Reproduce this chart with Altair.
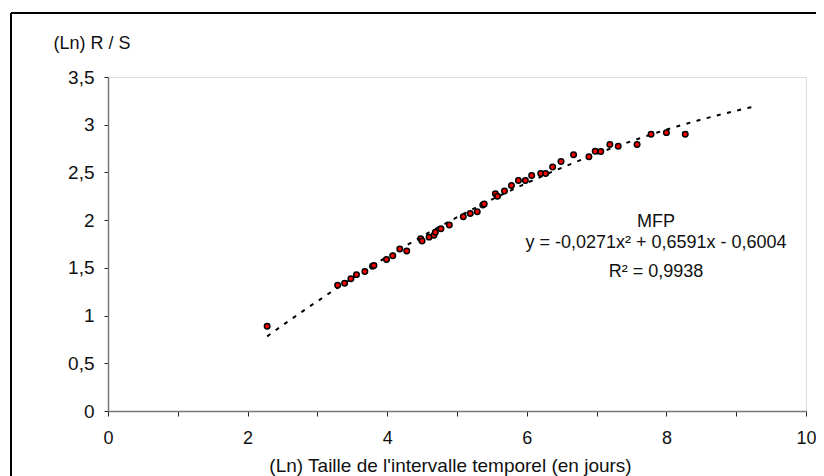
import altair as alt
import pandas as pd

# Data
x_vals = [2.28, 3.29, 3.39, 3.48, 3.56, 3.68, 3.79, 3.81, 3.99, 4.08, 4.18, 4.28,
          4.48, 4.50, 4.60, 4.67, 4.69, 4.77, 4.89, 5.09, 5.19, 5.29, 5.37, 5.39,
          5.55, 5.58, 5.68, 5.78, 5.88, 5.98, 6.07, 6.20, 6.27, 6.37, 6.49, 6.67,
          6.89, 6.98, 7.06, 7.19, 7.31, 7.58, 7.78, 8.00, 8.27]
y_vals = [0.887, 1.317, 1.338, 1.387, 1.429, 1.462, 1.516, 1.524, 1.587, 1.628, 1.698, 1.677,
          1.804, 1.781, 1.822, 1.841, 1.873, 1.909, 1.949, 2.035, 2.070, 2.089, 2.158, 2.168,
          2.276, 2.250, 2.305, 2.362, 2.415, 2.415, 2.468, 2.488, 2.488, 2.557, 2.614, 2.685,
          2.664, 2.721, 2.719, 2.792, 2.774, 2.792, 2.899, 2.917, 2.899]
trend_end = 9.28

x_ticks = [0, 0.5, 1, 1.5, 2, 2.5, 3, 3.5, 4, 4.5, 5, 5.5, 6, 6.5, 7, 7.5, 8, 8.5, 9, 9.5, 10]
y_ticks = [0, 0.25, 0.5, 0.75, 1, 1.25, 1.5, 1.75, 2, 2.25, 2.5, 2.75, 3, 3.25, 3.5]
annotation_lines = ["MFP", "y = -0,0271x\u00b2 + 0,6591x - 0,6004", "R\u00b2 = 0,9938"]
x_title = "(Ln) Taille de l'intervalle temporel (en jours)"
y_title = "(Ln) R / S"

FONT = "Liberation Sans"
df = pd.DataFrame({"x": x_vals, "y": y_vals})

xscale = alt.Scale(domain=[0, 10], nice=False, zero=False)
yscale = alt.Scale(domain=[0, 3.5], nice=False, zero=False)

x_axis = alt.Axis(
    values=x_ticks, grid=False, labelOverlap=False, labelFlush=False,
    labelExpr="datum.value % 2 == 0 ? toString(datum.value) : ''",
    tickSize=5, tickColor="#222", tickWidth=1,
    domainColor="#777", domainWidth=1.5,
    labelPadding=13, labelFont=FONT, labelFontSize=18, labelColor="#111",
    title=x_title, titleFont=FONT, titleFontSize=19, titleFontWeight="normal",
    titleColor="#111", titleX=342, titleY=60, titleAlign="center",
    titleBaseline="alphabetic",
)
y_axis = alt.Axis(
    values=y_ticks, grid=False, labelOverlap=False, labelFlush=False,
    labelExpr="datum.value % 0.5 == 0 ? replace(toString(datum.value), '.', ',') : ''",
    tickSize=4, tickColor="#222", tickWidth=1,
    domainColor="#777", domainWidth=1.5,
    labelPadding=10, labelFont=FONT, labelFontSize=19, labelColor="#111",
    title=y_title, titleFont=FONT, titleFontSize=18, titleFontWeight="normal",
    titleColor="#111", titleAngle=0, titleX=-55, titleY=-29, titleAlign="left",
    titleBaseline="alphabetic",
)

trend = alt.Chart(df).transform_regression(
    "x", "y", method="poly", order=2, extent=[x_vals[0], trend_end]
).mark_line(color="black", strokeDash=[4, 6.5], strokeWidth=2).encode(
    x=alt.X("x:Q", scale=xscale, axis=x_axis),
    y=alt.Y("y:Q", scale=yscale, axis=y_axis),
)

points = alt.Chart(df).mark_circle(
    color="#ff0000", stroke="#000", strokeWidth=1.5, size=30, opacity=1
).encode(x=alt.X("x:Q", scale=xscale), y=alt.Y("y:Q", scale=yscale))

ann_y = [150, 171, 200]
texts = []
for line, yy in zip(annotation_lines, ann_y):
    texts.append(
        alt.Chart(pd.DataFrame({"t": [line]})).mark_text(
            align="center", baseline="alphabetic", font=FONT, fontSize=18, color="#111"
        ).encode(x=alt.value(548), y=alt.value(yy), text="t:N")
    )

border_top = alt.Chart(df).mark_rule(color="#000", strokeWidth=1.5).encode(
    x=alt.value(-97), x2=alt.value(720), y=alt.value(-64)
)
border_left = alt.Chart(df).mark_rule(color="#000", strokeWidth=1.5).encode(
    x=alt.value(-97), y=alt.value(-64), y2=alt.value(420)
)

chart = alt.layer(trend, points, *texts, border_top, border_left).properties(
    width=698, height=334,
    autosize=alt.AutoSizeParams(type="none"),
    padding={"left": 100, "top": 69, "right": 10, "bottom": 65},
).configure_view(stroke=None).configure(background="white")

chart.save("out.html", embed_options={"renderer": "svg", "actions": False})
